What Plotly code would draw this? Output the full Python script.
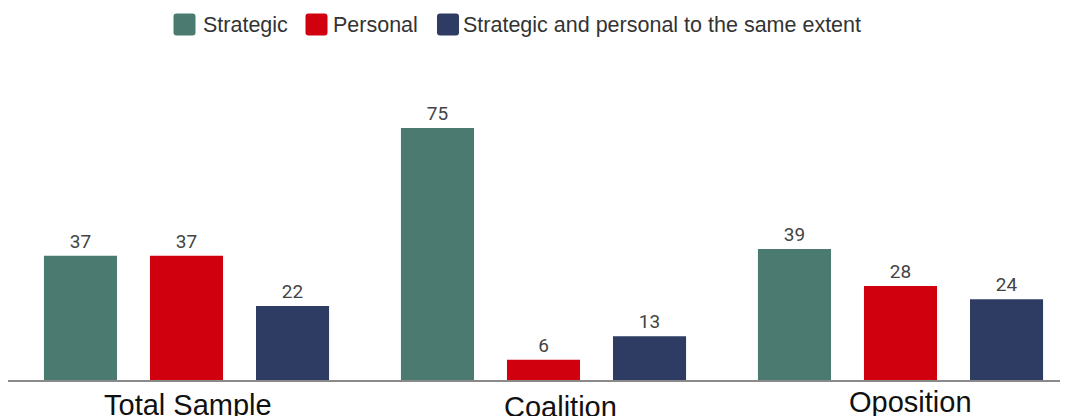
import plotly.graph_objects as go

categories = ["Total Sample", "Coalition", "Oposition"]
series_names = ["Strategic", "Personal", "Strategic and personal to the same extent"]
strategic = [37, 75, 39]
personal = [37, 6, 28]
both = [22, 13, 24]
colors = ["#4A7A70", "#D0000F", "#2E3C64"]

OFF = 8  # default page body margin
W, H = 1068 - OFF, 416 - OFF
ML, MR, MT, MB = 0, 0, 52, 36
PW, PH = W - ML - MR, H - MT - MB

fig = go.Figure()
for name, vals, col in zip(series_names, [strategic, personal, both], colors):
    fig.add_trace(go.Bar(
        x=list(range(len(categories))), y=vals, name=name,
        marker=dict(color=col, line=dict(width=0)),
        text=[str(v) for v in vals], textposition="outside",
        textfont=dict(size=19, color="#444444", family="Roboto, Liberation Sans, Arial"),
        cliponaxis=False,
    ))

def px2x(px):
    return (px - OFF - ML) / PW

def px2y(py):
    return (H - MB - (py - OFF)) / PH

shapes = []
annotations = []
# custom legend
leg_sw = [173.5, 305.5, 437]
leg_tx = [201, 331, 461]
for name, col, sx, tx in zip(series_names, colors, leg_sw, leg_tx):
    x0, x1 = px2x(sx), px2x(sx + 22)
    y0, y1 = px2y(35.5), px2y(13.5)
    rx, ry = 3 / PW, 3 / PH
    path = (f"M {x0+rx},{y0} L {x1-rx},{y0} Q {x1},{y0} {x1},{y0+ry} "
            f"L {x1},{y1-ry} Q {x1},{y1} {x1-rx},{y1} L {x0+rx},{y1} "
            f"Q {x0},{y1} {x0},{y1-ry} L {x0},{y0+ry} Q {x0},{y0} {x0+rx},{y0} Z")
    shapes.append(dict(type="path", path=path, xref="paper", yref="paper",
                       fillcolor=col, line=dict(width=0)))
    annotations.append(dict(text=name, x=px2x(tx), y=px2y(25), xref="paper", yref="paper",
                            xanchor="left", yanchor="middle", showarrow=False,
                            font=dict(size=21.5, color="#333333", family="Liberation Sans, Arial")))

# category labels
cat_x = [0.004, 1.049, 2.027]
cat_top = [387, 389, 384]
for c, x, t in zip(categories, cat_x, cat_top):
    annotations.append(dict(text=c, x=x, y=px2y(t), xref="x", yref="paper",
                            xanchor="center", yanchor="top", showarrow=False,
                            font=dict(size=29, color="#111111", family="Liberation Sans, Arial")))

x_left_px = 186.5 - OFF  # center of first category in figure px
fig.update_layout(
    width=W, height=H,
    margin=dict(l=ML, r=MR, t=MT, b=MB),
    barmode="group", bargap=0.109, bargroupgap=0.311,
    plot_bgcolor="white", paper_bgcolor="white",
    showlegend=False,
    xaxis=dict(range=[-x_left_px / 357, (PW - x_left_px) / 357],
               showticklabels=False, ticks="", showgrid=False, zeroline=False,
               showline=True, linecolor="#8a8a8a", linewidth=2),
    yaxis=dict(range=[0, PH / 3.36], visible=False, showgrid=False, zeroline=False),
    shapes=shapes, annotations=annotations,
)

fig.write_html("out.html")
